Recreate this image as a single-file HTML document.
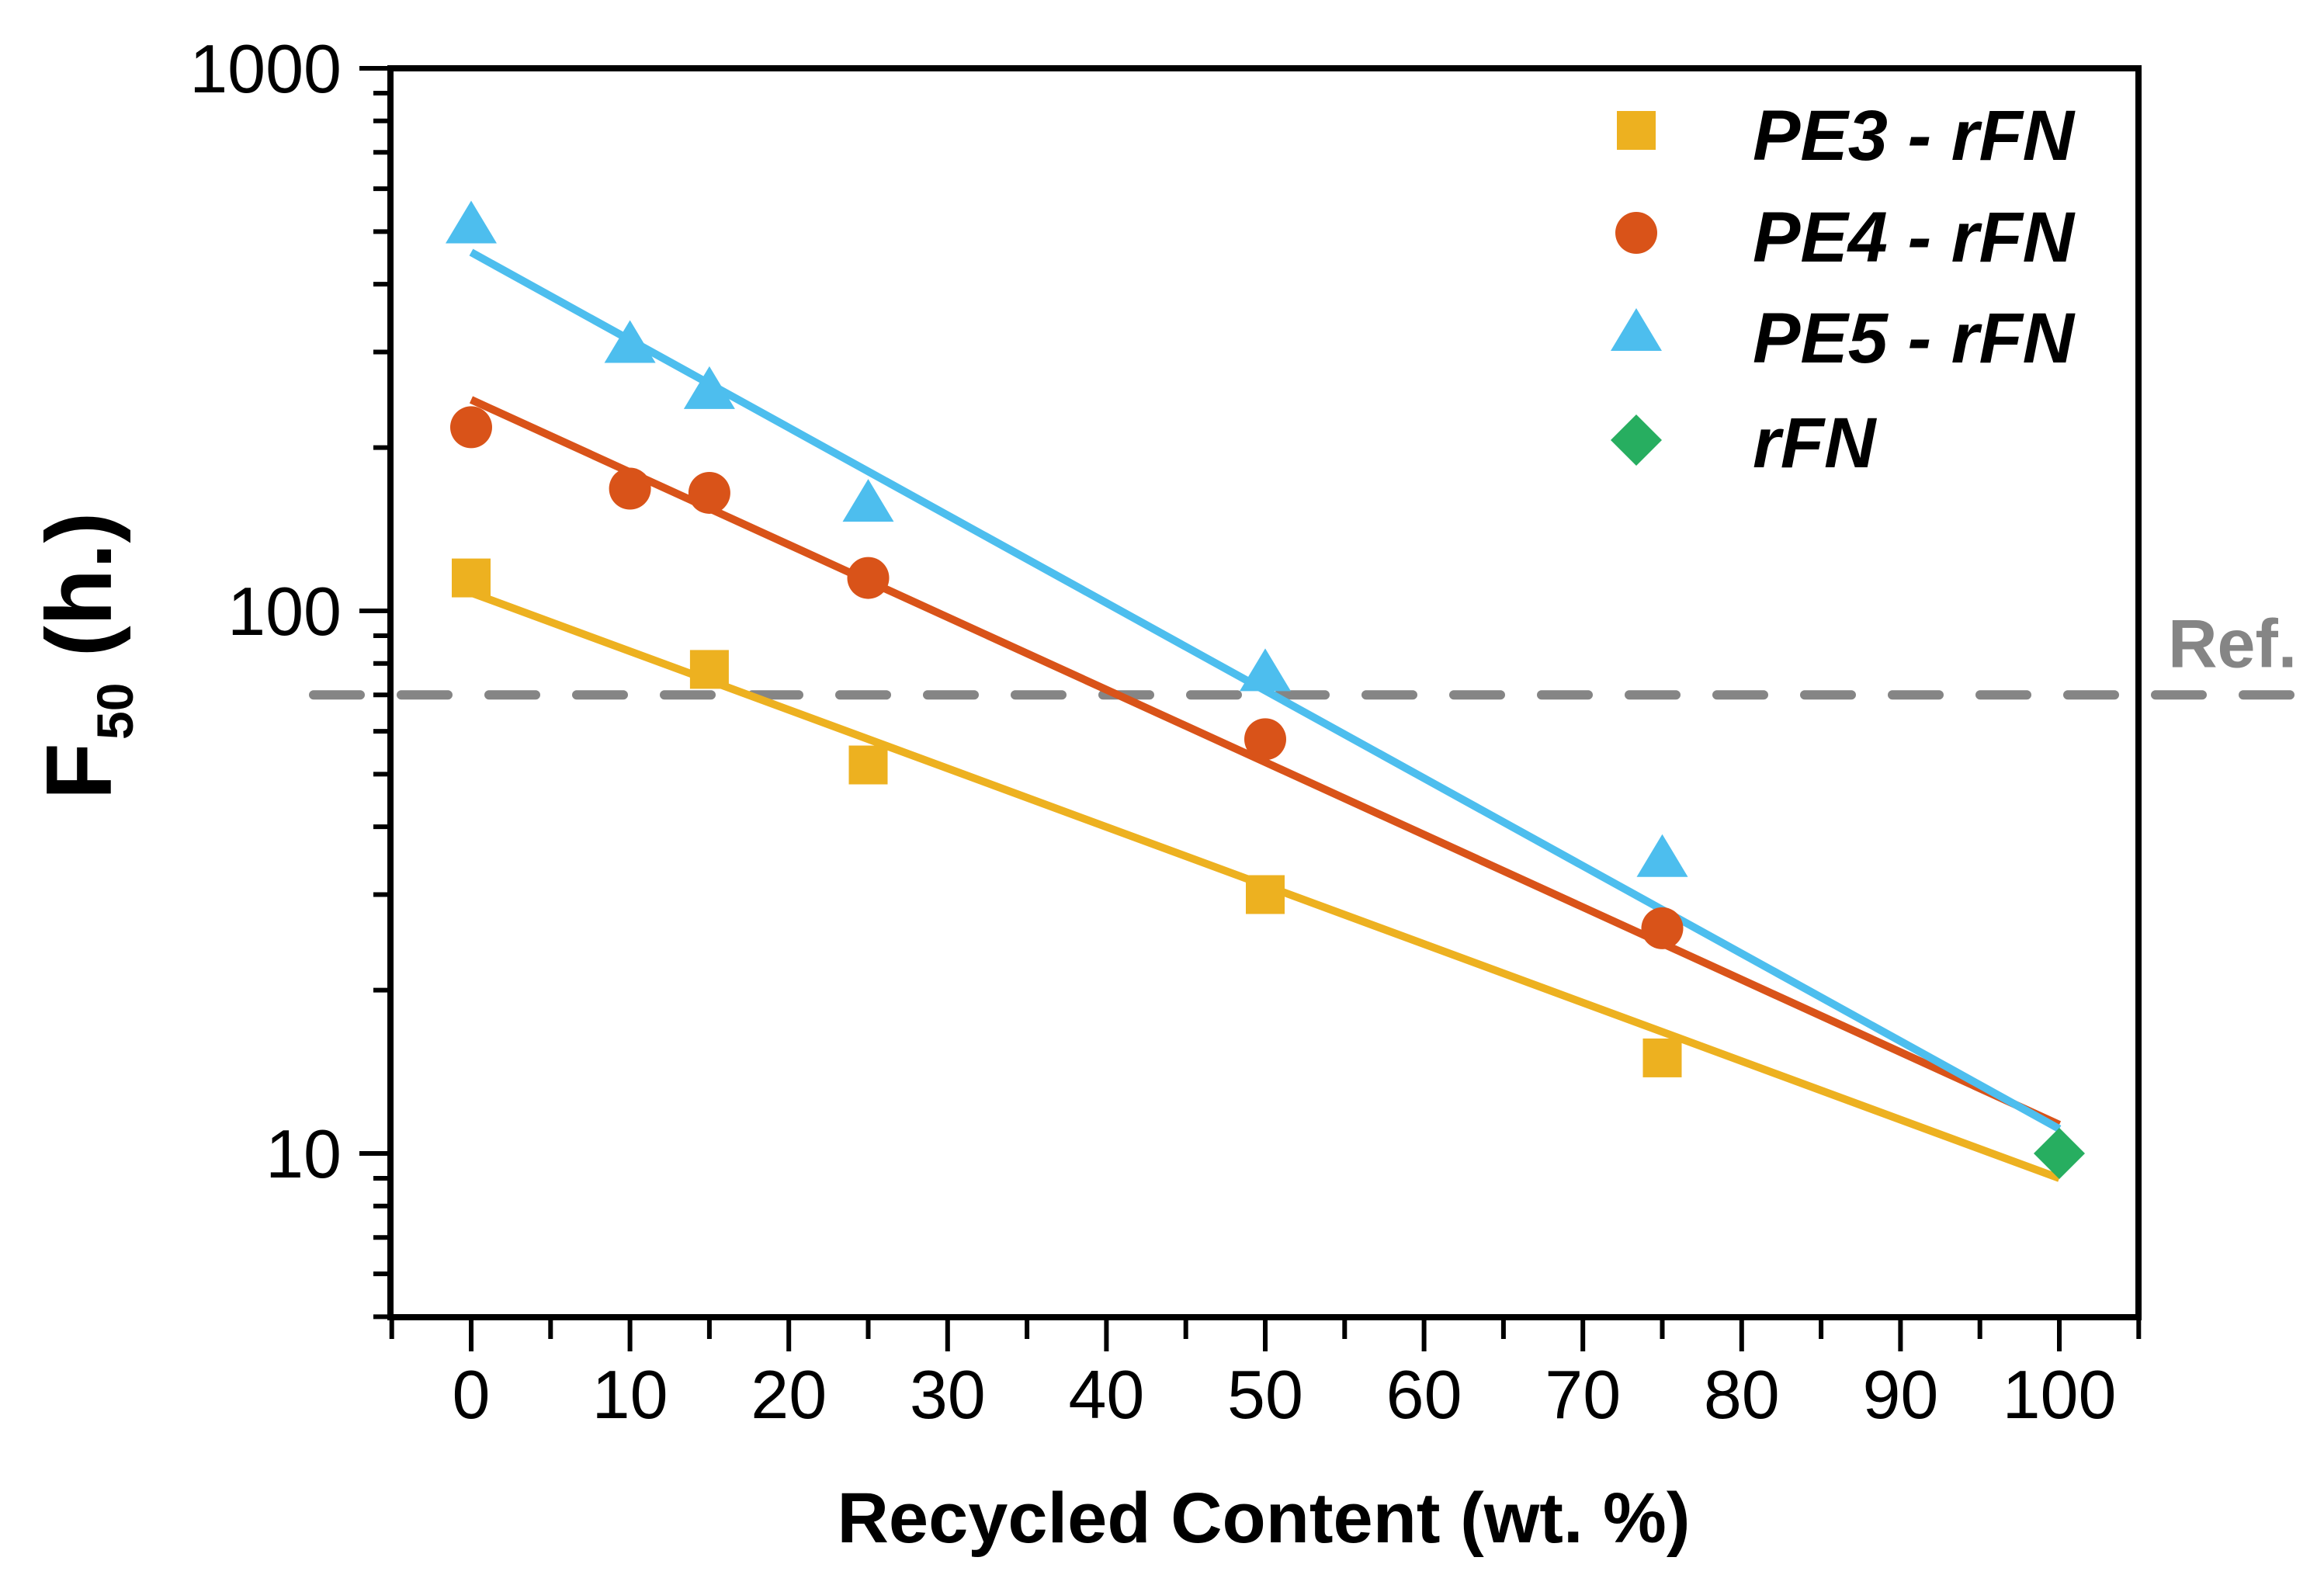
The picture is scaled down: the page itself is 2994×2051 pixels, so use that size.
<!DOCTYPE html>
<html><head><meta charset="utf-8">
<style>
html,body{margin:0;padding:0;background:#fff;}
svg{display:block;}
text{font-family:"Liberation Sans",Arial,sans-serif;}
</style></head>
<body>
<svg id="chart" width="2994" height="2051" viewBox="0 0 2994 2051" xmlns="http://www.w3.org/2000/svg">
<rect x="0" y="0" width="2994" height="2051" fill="#fff"/>
<g id="grid"></g>
<g id="fits"></g>
<g id="marks"></g>
<g id="axes"></g>
<g id="legend"></g>
</svg>
<script>
const xTicks = [0,10,20,30,40,50,60,70,80,90,100];
const yTickLabels = ["10","100","1000"];
const yTickValues = [10,100,1000];
const seriesNames = ["PE3 - rFN","PE4 - rFN","PE5 - rFN","rFN"];
const pe3X = [0,15,25,50,75];
const pe3Y = [115,78,52,30,15];
const pe4X = [0,10,15,25,50,75];
const pe4Y = [218,168,165,115,58,26];
const pe5X = [0,10,15,25,50,75];
const pe5Y = [515,310,255,158,77,35];
const rfnX = [100];
const rfnY = [10];
const fitX = [0,100];
const pe3Fit = [108,9.0];
const pe4Fit = [245,11.3];
const pe5Fit = [458,11.1];
const refValue = 70;

const NS="http://www.w3.org/2000/svg";
const L=503,R=2755,T=88,B=1697;
const X0=607,X100=2653;
const DEC=699, Y1000=88;
function sx(v){return X0+(X100-X0)*v/100;}
function sy(v){return Y1000+(3-Math.log10(v))*DEC;}
function mk(tag,attrs,parent){const e=document.createElementNS(NS,tag);for(const k in attrs)e.setAttribute(k,attrs[k]);parent.appendChild(e);return e;}
const axes=document.getElementById('axes'),marks=document.getElementById('marks'),fits=document.getElementById('fits'),legend=document.getElementById('legend'),grid=document.getElementById('grid');

let ref=mk('line',{x1:404,x2:2950,y1:sy(refValue),y2:sy(refValue),stroke:'#858585','stroke-width':12,'stroke-dasharray':'60 53','stroke-linecap':'round'},grid);


let rt=mk('text',{x:2793,y:sy(refValue)-36,'font-size':88,'font-weight':'bold',fill:'#858585'},grid);
rt.textContent='Ref.';



const colors=['#EDB120','#D95319','#4DBEEE','#27AE60'];
[[pe3Fit,0,'pe3-fit-line'],[pe4Fit,1,'pe4-fit-line'],[pe5Fit,2,'pe5-fit-line']].forEach(([f,i,n])=>{
  const l=mk('line',{x1:sx(fitX[0]),y1:sy(f[0]),x2:sx(fitX[1]),y2:sy(f[1]),stroke:colors[i],'stroke-width':10},fits);
  
  
});

function marker(type,cx,cy,color,parent){
  let e;
  if(type==='sq') e=mk('rect',{x:cx-25,y:cy-25,width:50,height:50,fill:color},parent);
  else if(type==='ci') e=mk('circle',{cx:cx,cy:cy,r:27,fill:color},parent);
  else if(type==='tr') e=mk('polygon',{points:`${cx},${cy-31} ${cx+33},${cy+24} ${cx-33},${cy+24}`,fill:color},parent);
  else e=mk('polygon',{points:`${cx},${cy-33} ${cx+33},${cy} ${cx},${cy+33} ${cx-33},${cy}`,fill:color},parent);
  return e;
}
const sets=[[pe3X,pe3Y,'sq',0,'pe3'],[pe4X,pe4Y,'ci',1,'pe4'],[pe5X,pe5Y,'tr',2,'pe5'],[rfnX,rfnY,'di',3,'rfn']];
sets.forEach(([xs,ys,t,i,n])=>{
  xs.forEach((x,j)=>{
    const e=marker(t,sx(x),sy(ys[j]),colors[i],marks);
    
    
  });
});

const frame=mk('rect',{x:L,y:T,width:R-L,height:B-T,fill:'none',stroke:'#000','stroke-width':8},axes);



for(let v=-5;v<=105;v+=5){
  const major=(v%10===0)&&v>=0&&v<=100;
  const t=mk('line',{x1:sx(v),x2:sx(v),y1:B,y2:B+(major?44:28),stroke:'#000','stroke-width':6},axes);
  
  
}
xTicks.forEach(v=>{
  const t=mk('text',{x:sx(v),y:1827,'font-size':88,'text-anchor':'middle',fill:'#000'},axes);
  t.textContent=String(v);
  
  
});
for(let d=0;d<3;d++){
  for(let m=1;m<=9;m++){
    const v=m*Math.pow(10,d);
    if(v<5) continue;
    const y=sy(v);
    const major=(m===1);
    const t=mk('line',{x1:L-(major?40:22),x2:L,y1:y,y2:y,stroke:'#000','stroke-width':6},axes);
    
    
  }
}
const t1000=mk('line',{x1:L-40,x2:L,y1:sy(1000),y2:sy(1000),stroke:'#000','stroke-width':6},axes);


yTickValues.forEach((v,i)=>{
  const t=mk('text',{x:440,y:sy(v)+31,'font-size':88,'text-anchor':'end',fill:'#000'},axes);
  t.textContent=yTickLabels[i];
  
  
});

const xt=mk('text',{x:1628,y:1987,'font-size':92,'font-weight':'bold','text-anchor':'middle',fill:'#000'},axes);
xt.textContent='Recycled Content (wt. %)';


const yt=mk('text',{x:0,y:0,'font-size':120,'font-weight':'bold','text-anchor':'middle',fill:'#000',transform:'translate(143,845) rotate(-90)'},axes);


const s1=mk('tspan',{},yt); s1.textContent='F';
const s2=mk('tspan',{'font-size':66,dy:28,dx:4},yt); s2.textContent='50';
const s3=mk('tspan',{'font-size':120,dy:-28},yt); s3.textContent=' (h.)';

const ly=[168,300,428,567];
const lb=[206,337,467,602];
const types=['sq','ci','tr','di'];
seriesNames.forEach((n,i)=>{
  const m=marker(types[i],2108,ly[i],colors[i],legend);
  
  
  const t=mk('text',{x:2258,y:lb[i],'font-size':92,'font-weight':'bold','font-style':'italic',fill:'#000'},legend);
  t.textContent=n;
  
  
});
</script>
</body></html>
